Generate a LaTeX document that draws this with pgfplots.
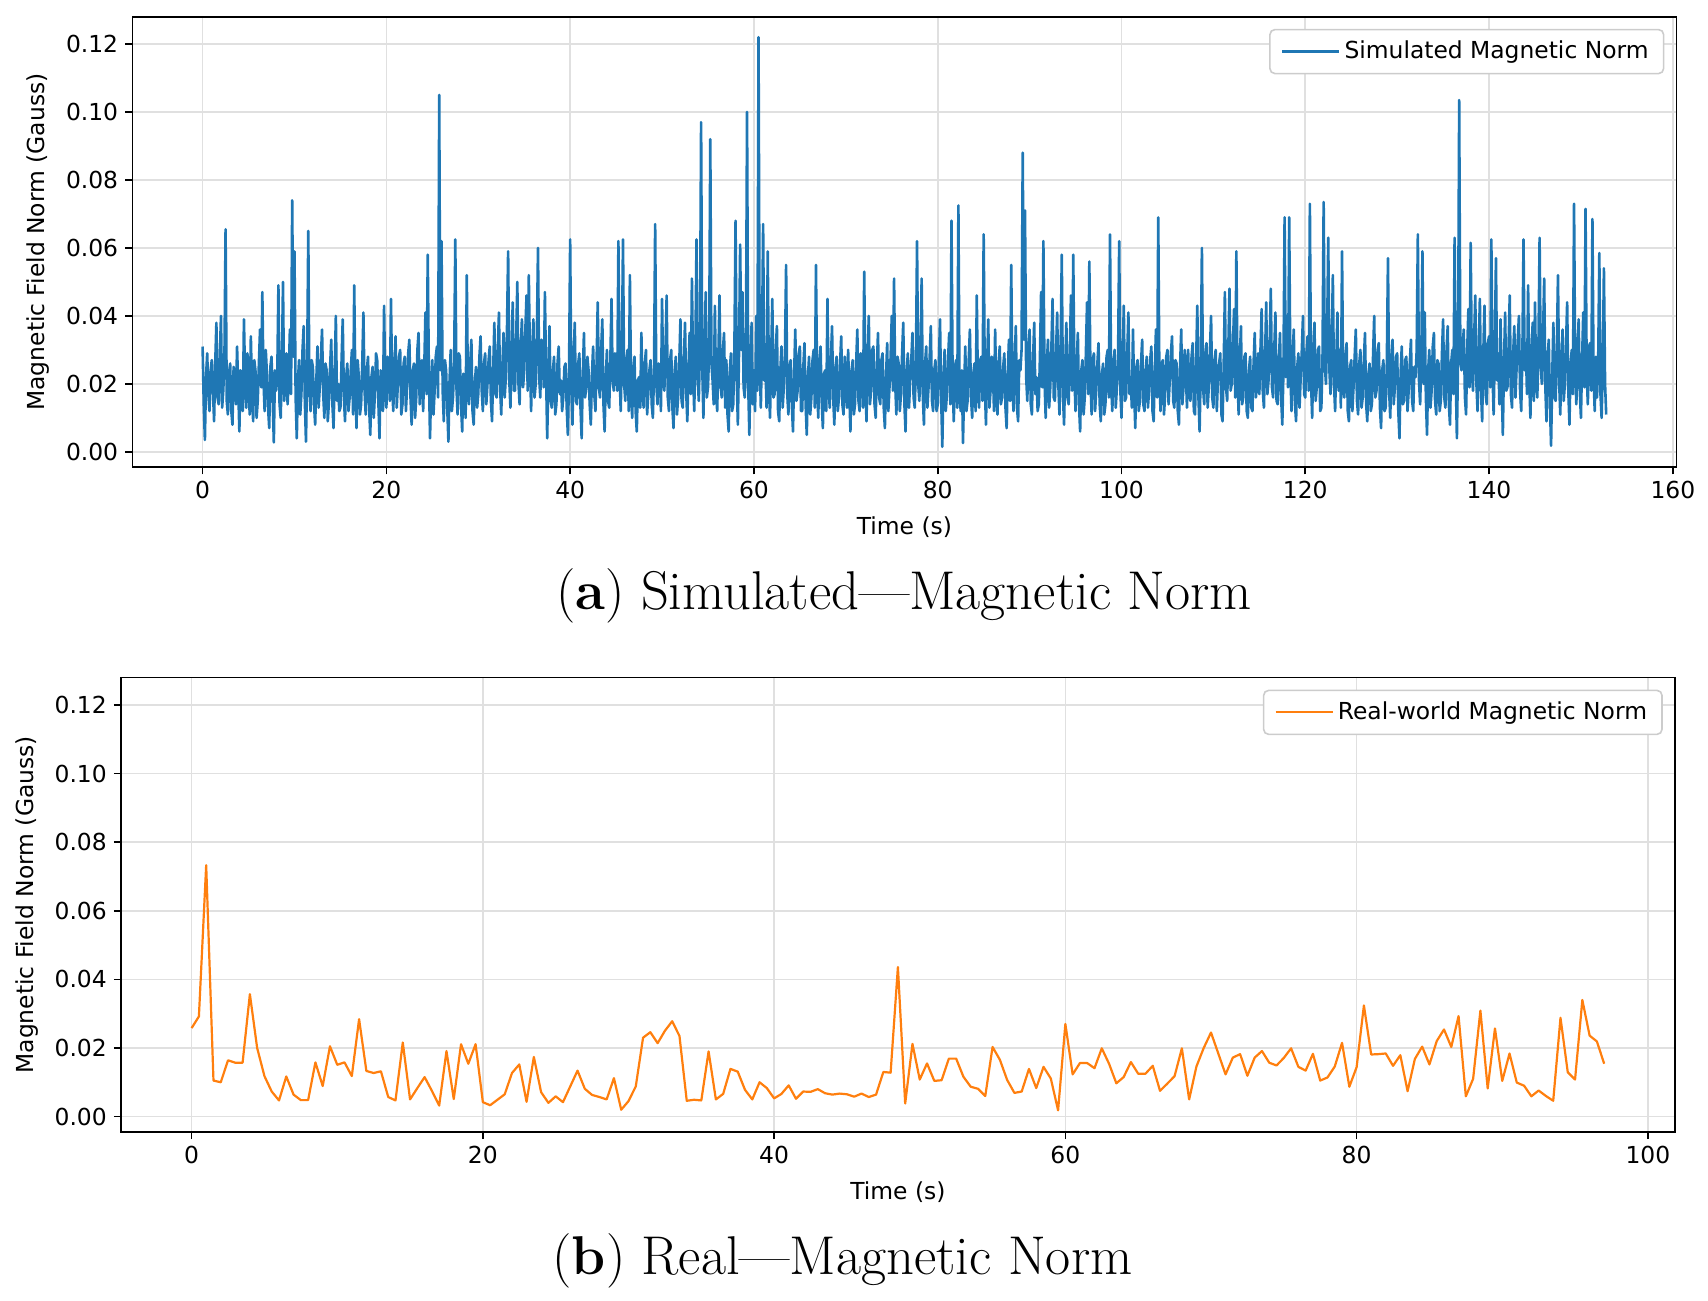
\documentclass[border=0pt]{standalone}
\usepackage{fontspec}
\newfontfamily\dv{DejaVu Sans}
\usepackage{pgfplots}
\pgfplotsset{compat=1.18}
\definecolor{tabblue}{HTML}{1F77B4}
\definecolor{taborange}{HTML}{FF7F0E}
\pgfplotsset{
 mpl/.style={
  scale only axis,
  axis line style={line width=0.8pt},
  tick style={black,line width=0.8pt},
  major tick length=3.6pt,
  tick align=outside,
  tick pos=left,
  grid=major,
  major grid style={line width=0.8pt, black!12},
  tick label style={font=\dv\fontsize{11.7}{14}\selectfont},
  /pgf/number format/assume math mode=true,
  yticklabel style={/pgf/number format/.cd,fixed,fixed zerofill,precision=2},
  ytick={0,0.02,0.04,0.06,0.08,0.1,0.12},
  ymin=-0.0045, ymax=0.128,
  scaled y ticks=false,
  xlabel={Time (s)},
  ylabel={Magnetic Field Norm (Gauss)},
  every axis x label/.style={at={([yshift=-30pt]axis description cs:0.5,0)},anchor=center,font=\dv\fontsize{11.7}{14}\selectfont},
  every axis y label/.style={at={([xshift=-47pt]axis description cs:0,0.5)},rotate=90,anchor=center,font=\dv\fontsize{11.7}{14}\selectfont},
  legend style={at={(1,1)},anchor=north east,xshift=-6pt,yshift=-6pt,draw=black!20,rounded corners=2.5pt,fill=white,font=\dv\fontsize{11.7}{14}\selectfont,inner xsep=5.5pt,inner ysep=3.8pt,line width=0.8pt},
  legend cell align=left,
  legend image code/.code={\draw[#1] (0pt,0pt) -- (20pt,0pt); \path (20pt,0pt) -- (28.5pt,0pt);},
 }
}
\begin{document}
\begin{tikzpicture}
\path[use as bounding box] (0,0) rectangle (854pt,650.5pt);
\begin{axis}[mpl, at={(66.2pt,416.9pt)}, anchor=south west, width=772pt, height=225.2pt,
  xmin=-7.64, xmax=160.39, xtick={0,20,40,60,80,100,120,140,160}]
\addplot[tabblue, line width=1.3pt, line join=round] coordinates {
(0,0.031)(0.125,0.014)(0.25,0.0035)(0.375,0.022)(0.5,0.029)(0.625,0.017)(0.75,0.012)(0.875,0.024)
(1,0.027)(1.125,0.018)(1.25,0.009)(1.375,0.026)(1.5,0.038)(1.625,0.016)(1.75,0.014)(1.875,0.028)
(2,0.040)(2.125,0.013)(2.25,0.018)(2.375,0.027)(2.5,0.0655)(2.625,0.015)(2.75,0.011)(2.875,0.023)
(3,0.026)(3.125,0.012)(3.25,0.008)(3.375,0.025)(3.5,0.022)(3.625,0.014)(3.75,0.031)(3.875,0.019)
(4,0.006)(4.125,0.024)(4.25,0.019)(4.375,0.012)(4.5,0.039)(4.625,0.021)(4.75,0.013)(4.875,0.029)
(5,0.021)(5.125,0.011)(5.25,0.034)(5.375,0.018)(5.5,0.009)(5.625,0.027)(5.75,0.024)(5.875,0.010)
(6,0.015)(6.125,0.026)(6.25,0.036)(6.375,0.019)(6.5,0.047)(6.625,0.021)(6.75,0.012)(6.875,0.030)
(7,0.023)(7.125,0.013)(7.25,0.007)(7.375,0.025)(7.5,0.028)(7.625,0.016)(7.75,0.0028)(7.875,0.024)
(8,0.018)(8.125,0.022)(8.25,0.049)(8.375,0.014)(8.5,0.010)(8.625,0.026)(8.75,0.050)(8.875,0.015)
(9,0.020)(9.125,0.029)(9.25,0.014)(9.375,0.022)(9.5,0.036)(9.625,0.017)(9.75,0.074)(9.875,0.028)
(10,0.059)(10.125,0.016)(10.25,0.004)(10.375,0.021)(10.5,0.027)(10.625,0.011)(10.75,0.017)(10.875,0.030)
(11,0.037)(11.125,0.015)(11.25,0.003)(11.375,0.024)(11.5,0.065)(11.625,0.018)(11.75,0.012)(11.875,0.027)
(12,0.025)(12.125,0.014)(12.25,0.008)(12.375,0.021)(12.5,0.031)(12.625,0.013)(12.75,0.019)(12.875,0.028)
(13,0.036)(13.125,0.017)(13.25,0.010)(13.375,0.026)(13.5,0.024)(13.625,0.009)(13.75,0.015)(13.875,0.025)
(14,0.033)(14.125,0.014)(14.25,0.007)(14.375,0.023)(14.5,0.040)(14.625,0.015)(14.75,0.020)(14.875,0.012)
(15,0.013)(15.125,0.027)(15.25,0.039)(15.375,0.016)(15.5,0.009)(15.625,0.022)(15.75,0.026)(15.875,0.012)
(16,0.016)(16.125,0.024)(16.25,0.030)(16.375,0.011)(16.5,0.049)(16.625,0.019)(16.75,0.007)(16.875,0.027)
(17,0.022)(17.125,0.011)(17.25,0.014)(17.375,0.026)(17.5,0.041)(17.625,0.018)(17.75,0.011)(17.875,0.024)
(18,0.028)(18.125,0.013)(18.25,0.005)(18.375,0.022)(18.5,0.025)(18.625,0.010)(18.75,0.017)(18.875,0.029)
(19,0.027)(19.125,0.015)(19.25,0.004)(19.375,0.024)(19.5,0.021)(19.625,0.012)(19.75,0.043)(19.875,0.019)
(20,0.013)(20.125,0.028)(20.25,0.026)(20.375,0.015)(20.5,0.045)(20.625,0.020)(20.75,0.012)(20.875,0.025)
(21,0.034)(21.125,0.013)(21.25,0.020)(21.375,0.028)(21.5,0.030)(21.625,0.011)(21.75,0.014)(21.875,0.026)
(22,0.028)(22.125,0.012)(22.25,0.019)(22.375,0.029)(22.5,0.033)(22.625,0.016)(22.75,0.008)(22.875,0.024)
(23,0.026)(23.125,0.010)(23.25,0.016)(23.375,0.030)(23.5,0.035)(23.625,0.014)(23.75,0.021)(23.875,0.027)
(24,0.012)(24.125,0.025)(24.25,0.041)(24.375,0.017)(24.5,0.058)(24.625,0.023)(24.75,0.004)(24.875,0.020)
(25,0.027)(25.125,0.011)(25.25,0.018)(25.375,0.028)(25.5,0.031)(25.625,0.016)(25.75,0.105)(25.875,0.024)
(26,0.062)(26.125,0.018)(26.25,0.009)(26.375,0.027)(26.5,0.024)(26.625,0.013)(26.75,0.003)(26.875,0.021)
(27,0.030)(27.125,0.012)(27.25,0.016)(27.375,0.026)(27.5,0.0625)(27.625,0.019)(27.75,0.011)(27.875,0.029)
(28,0.028)(28.125,0.014)(28.25,0.006)(28.375,0.023)(28.5,0.021)(28.625,0.010)(28.75,0.052)(28.875,0.017)
(29,0.014)(29.125,0.026)(29.25,0.033)(29.375,0.012)(29.5,0.008)(29.625,0.020)(29.75,0.025)(29.875,0.013)
(30,0.017)(30.125,0.028)(30.25,0.034)(30.375,0.018)(30.5,0.012)(30.625,0.026)(30.75,0.029)(30.875,0.014)
(31,0.020)(31.125,0.027)(31.25,0.031)(31.375,0.015)(31.5,0.009)(31.625,0.024)(31.75,0.038)(31.875,0.017)
(32,0.016)(32.125,0.030)(32.25,0.041)(32.375,0.019)(32.5,0.011)(32.625,0.025)(32.75,0.035)(32.875,0.016)
(33,0.022)(33.125,0.036)(33.25,0.059)(33.375,0.021)(33.5,0.013)(33.625,0.030)(33.75,0.044)(33.875,0.018)
(34,0.018)(34.125,0.033)(34.25,0.050)(34.375,0.020)(34.5,0.014)(34.625,0.031)(34.75,0.039)(34.875,0.019)
(35,0.024)(35.125,0.036)(35.25,0.046)(35.375,0.018)(35.5,0.052)(35.625,0.027)(35.75,0.012)(35.875,0.030)
(36,0.039)(36.125,0.016)(36.25,0.020)(36.375,0.034)(36.5,0.060)(36.625,0.022)(36.75,0.016)(36.875,0.033)
(37,0.032)(37.125,0.019)(37.25,0.047)(37.375,0.024)(37.5,0.004)(37.625,0.021)(37.75,0.037)(37.875,0.015)
(38,0.013)(38.125,0.024)(38.25,0.028)(38.375,0.011)(38.5,0.014)(38.625,0.026)(38.75,0.031)(38.875,0.017)
(39,0.021)(39.125,0.012)(39.25,0.016)(39.375,0.025)(39.5,0.026)(39.625,0.013)(39.75,0.005)(39.875,0.022)
(40,0.0625)(40.125,0.019)(40.25,0.008)(40.375,0.027)(40.5,0.038)(40.625,0.015)(40.75,0.014)(40.875,0.026)
(41,0.029)(41.125,0.013)(41.25,0.004)(41.375,0.022)(41.5,0.035)(41.625,0.016)(41.75,0.019)(41.875,0.028)
(42,0.024)(42.125,0.014)(42.25,0.008)(42.375,0.023)(42.5,0.031)(42.625,0.017)(42.75,0.012)(42.875,0.026)
(43,0.044)(43.125,0.019)(43.25,0.016)(43.375,0.030)(43.5,0.039)(43.625,0.014)(43.75,0.006)(43.875,0.021)
(44,0.030)(44.125,0.015)(44.25,0.013)(44.375,0.027)(44.5,0.045)(44.625,0.021)(44.75,0.018)(44.875,0.029)
(45,0.026)(45.125,0.018)(45.25,0.062)(45.375,0.024)(45.5,0.012)(45.625,0.028)(45.75,0.0625)(45.875,0.020)
(46,0.015)(46.125,0.027)(46.25,0.030)(46.375,0.012)(46.5,0.052)(46.625,0.019)(46.75,0.010)(46.875,0.024)
(47,0.028)(47.125,0.012)(47.25,0.006)(47.375,0.021)(47.5,0.022)(47.625,0.013)(47.75,0.035)(47.875,0.018)
(48,0.013)(48.125,0.026)(48.25,0.030)(48.375,0.011)(48.5,0.017)(48.625,0.024)(48.75,0.027)(48.875,0.014)
(49,0.010)(49.125,0.023)(49.25,0.067)(49.375,0.020)(49.5,0.014)(49.625,0.026)(49.75,0.025)(49.875,0.012)
(50,0.045)(50.125,0.021)(50.25,0.018)(50.375,0.030)(50.5,0.046)(50.625,0.016)(50.75,0.012)(50.875,0.027)
(51,0.030)(51.125,0.013)(51.25,0.007)(51.375,0.024)(51.5,0.028)(51.625,0.011)(51.75,0.016)(51.875,0.026)
(52,0.039)(52.125,0.015)(52.25,0.013)(52.375,0.027)(52.5,0.038)(52.625,0.018)(52.75,0.009)(52.875,0.024)
(53,0.035)(53.125,0.017)(53.25,0.051)(53.375,0.024)(53.5,0.012)(53.625,0.029)(53.75,0.0625)(53.875,0.022)
(54,0.015)(54.125,0.031)(54.25,0.097)(54.375,0.025)(54.5,0.010)(54.625,0.028)(54.75,0.047)(54.875,0.016)
(55,0.019)(55.125,0.030)(55.25,0.092)(55.375,0.026)(55.5,0.021)(55.625,0.014)(55.75,0.043)(55.875,0.018)
(56,0.012)(56.125,0.027)(56.25,0.046)(56.375,0.019)(56.5,0.016)(56.625,0.030)(56.75,0.035)(56.875,0.013)
(57,0.027)(57.125,0.011)(57.25,0.006)(57.375,0.024)(57.5,0.029)(57.625,0.012)(57.75,0.014)(57.875,0.031)
(58,0.068)(58.125,0.022)(58.25,0.008)(58.375,0.029)(58.5,0.061)(58.625,0.030)(58.75,0.047)(58.875,0.019)
(59,0.016)(59.125,0.027)(59.25,0.100)(59.375,0.020)(59.5,0.005)(59.625,0.026)(59.75,0.038)(59.875,0.014)
(60,0.024)(60.125,0.012)(60.25,0.040)(60.375,0.018)(60.5,0.122)(60.625,0.027)(60.75,0.013)(60.875,0.031)
(61,0.067)(61.125,0.021)(61.25,0.025)(61.375,0.013)(61.5,0.059)(61.625,0.020)(61.75,0.010)(61.875,0.028)
(62,0.045)(62.125,0.016)(62.25,0.017)(62.375,0.030)(62.5,0.037)(62.625,0.012)(62.75,0.009)(62.875,0.024)
(63,0.031)(63.125,0.013)(63.25,0.019)(63.375,0.028)(63.5,0.055)(63.625,0.017)(63.75,0.011)(63.875,0.025)
(64,0.027)(64.125,0.014)(64.25,0.006)(64.375,0.023)(64.5,0.036)(64.625,0.015)(64.75,0.018)(64.875,0.029)
(65,0.031)(65.125,0.012)(65.25,0.012)(65.375,0.025)(65.5,0.032)(65.625,0.014)(65.75,0.005)(65.875,0.022)
(66,0.028)(66.125,0.011)(66.25,0.016)(66.375,0.027)(66.5,0.030)(66.625,0.013)(66.75,0.055)(66.875,0.020)
(67,0.010)(67.125,0.026)(67.25,0.031)(67.375,0.015)(67.5,0.007)(67.625,0.023)(67.75,0.024)(67.875,0.012)
(68,0.045)(68.125,0.019)(68.25,0.013)(68.375,0.027)(68.5,0.037)(68.625,0.016)(68.75,0.008)(68.875,0.025)
(69,0.028)(69.125,0.012)(69.25,0.016)(69.375,0.026)(69.5,0.034)(69.625,0.014)(69.75,0.011)(69.875,0.028)
(70,0.022)(70.125,0.013)(70.25,0.030)(70.375,0.018)(70.5,0.006)(70.625,0.024)(70.75,0.027)(70.875,0.011)
(71,0.014)(71.125,0.026)(71.25,0.036)(71.375,0.015)(71.5,0.012)(71.625,0.029)(71.75,0.025)(71.875,0.013)
(72,0.053)(72.125,0.020)(72.25,0.009)(72.375,0.028)(72.5,0.040)(72.625,0.014)(72.75,0.018)(72.875,0.030)
(73,0.031)(73.125,0.014)(73.25,0.010)(73.375,0.025)(73.5,0.035)(73.625,0.016)(73.75,0.014)(73.875,0.027)
(74,0.029)(74.125,0.013)(74.25,0.007)(74.375,0.022)(74.5,0.032)(74.625,0.012)(74.75,0.019)(74.875,0.028)
(75,0.040)(75.125,0.018)(75.25,0.051)(75.375,0.020)(75.5,0.011)(75.625,0.028)(75.75,0.026)(75.875,0.012)
(76,0.017)(76.125,0.029)(76.25,0.038)(76.375,0.014)(76.5,0.006)(76.625,0.024)(76.75,0.029)(76.875,0.013)
(77,0.021)(77.125,0.027)(77.25,0.035)(77.375,0.016)(77.5,0.013)(77.625,0.025)(77.75,0.062)(77.875,0.020)
(78,0.015)(78.125,0.028)(78.25,0.051)(78.375,0.017)(78.5,0.008)(78.625,0.026)(78.75,0.031)(78.875,0.013)
(79,0.019)(79.125,0.028)(79.25,0.037)(79.375,0.015)(79.5,0.012)(79.625,0.024)(79.75,0.027)(79.875,0.012)
(80,0.014)(80.125,0.026)(80.25,0.039)(80.375,0.016)(80.5,0.0015)(80.625,0.021)(80.75,0.030)(80.875,0.012)
(81,0.017)(81.125,0.027)(81.25,0.035)(81.375,0.014)(81.5,0.068)(81.625,0.020)(81.75,0.009)(81.875,0.025)
(82,0.027)(82.125,0.013)(82.25,0.0725)(82.375,0.018)(82.5,0.012)(82.625,0.024)(82.75,0.0026)(82.875,0.019)
(83,0.031)(83.125,0.012)(83.25,0.015)(83.375,0.027)(83.5,0.036)(83.625,0.016)(83.75,0.010)(83.875,0.023)
(84,0.026)(84.125,0.012)(84.25,0.046)(84.375,0.019)(84.5,0.013)(84.625,0.027)(84.75,0.028)(84.875,0.015)
(85,0.064)(85.125,0.020)(85.25,0.008)(85.375,0.025)(85.5,0.039)(85.625,0.013)(85.75,0.018)(85.875,0.028)
(86,0.025)(86.125,0.012)(86.25,0.036)(86.375,0.017)(86.5,0.011)(86.625,0.026)(86.75,0.031)(86.875,0.014)
(87,0.016)(87.125,0.025)(87.25,0.029)(87.375,0.013)(87.5,0.007)(87.625,0.023)(87.75,0.033)(87.875,0.015)
(88,0.055)(88.125,0.019)(88.25,0.012)(88.375,0.026)(88.5,0.037)(88.625,0.013)(88.75,0.009)(88.875,0.027)
(89,0.024)(89.125,0.030)(89.25,0.088)(89.375,0.033)(89.5,0.071)(89.625,0.022)(89.75,0.015)(89.875,0.031)
(90,0.036)(90.125,0.014)(90.25,0.011)(90.375,0.027)(90.5,0.038)(90.625,0.017)(90.75,0.022)(90.875,0.012)
(91,0.014)(91.125,0.028)(91.25,0.047)(91.375,0.019)(91.5,0.062)(91.625,0.021)(91.75,0.010)(91.875,0.026)
(92,0.033)(92.125,0.013)(92.25,0.019)(92.375,0.031)(92.5,0.045)(92.625,0.016)(92.75,0.015)(92.875,0.029)
(93,0.041)(93.125,0.020)(93.25,0.011)(93.375,0.030)(93.5,0.058)(93.625,0.017)(93.75,0.008)(93.875,0.025)
(94,0.038)(94.125,0.016)(94.25,0.014)(94.375,0.029)(94.5,0.046)(94.625,0.018)(94.75,0.058)(94.875,0.022)
(95,0.012)(95.125,0.026)(95.25,0.035)(95.375,0.014)(95.5,0.006)(95.625,0.024)(95.75,0.027)(95.875,0.011)
(96,0.016)(96.125,0.029)(96.25,0.044)(96.375,0.017)(96.5,0.056)(96.625,0.021)(96.75,0.011)(96.875,0.027)
(97,0.029)(97.125,0.012)(97.25,0.018)(97.375,0.026)(97.5,0.032)(97.625,0.014)(97.75,0.009)(97.875,0.023)
(98,0.026)(98.125,0.011)(98.25,0.014)(98.375,0.028)(98.5,0.030)(98.625,0.016)(98.75,0.064)(98.875,0.020)
(99,0.012)(99.125,0.025)(99.25,0.030)(99.375,0.013)(99.5,0.019)(99.625,0.027)(99.75,0.062)(99.875,0.018)
(100,0.010)(100.125,0.027)(100.25,0.043)(100.375,0.015)(100.5,0.016)(100.625,0.029)(100.75,0.041)(100.875,0.017)
(101,0.022)(101.125,0.013)(101.25,0.036)(101.375,0.018)(101.5,0.007)(101.625,0.025)(101.75,0.027)(101.875,0.012)
(102,0.015)(102.125,0.026)(102.25,0.033)(102.375,0.014)(102.5,0.012)(102.625,0.024)(102.75,0.028)(102.875,0.013)
(103,0.018)(103.125,0.027)(103.25,0.031)(103.375,0.012)(103.5,0.009)(103.625,0.024)(103.75,0.036)(103.875,0.016)
(104,0.069)(104.125,0.021)(104.25,0.012)(104.375,0.026)(104.5,0.027)(104.625,0.011)(104.75,0.017)(104.875,0.028)
(105,0.030)(105.125,0.014)(105.25,0.021)(105.375,0.029)(105.5,0.034)(105.625,0.015)(105.75,0.013)(105.875,0.027)
(106,0.026)(106.125,0.012)(106.25,0.008)(106.375,0.025)(106.5,0.036)(106.625,0.014)(106.75,0.019)(106.875,0.030)
(107,0.024)(107.125,0.013)(107.25,0.030)(107.375,0.017)(107.5,0.015)(107.625,0.028)(107.75,0.032)(107.875,0.012)
(108,0.011)(108.125,0.027)(108.25,0.043)(108.375,0.016)(108.5,0.006)(108.625,0.025)(108.75,0.060)(108.875,0.019)
(109,0.014)(109.125,0.028)(109.25,0.032)(109.375,0.013)(109.5,0.019)(109.625,0.030)(109.75,0.040)(109.875,0.016)
(110,0.013)(110.125,0.027)(110.25,0.030)(110.375,0.012)(110.5,0.022)(110.625,0.026)(110.75,0.029)(110.875,0.011)
(111,0.009)(111.125,0.026)(111.25,0.047)(111.375,0.019)(111.5,0.015)(111.625,0.030)(111.75,0.048)(111.875,0.018)
(112,0.020)(112.125,0.031)(112.25,0.042)(112.375,0.016)(112.5,0.059)(112.625,0.022)(112.75,0.011)(112.875,0.027)
(113,0.037)(113.125,0.014)(113.25,0.016)(113.375,0.028)(113.5,0.029)(113.625,0.012)(113.75,0.010)(113.875,0.024)
(114,0.028)(114.125,0.013)(114.25,0.012)(114.375,0.026)(114.5,0.035)(114.625,0.016)(114.75,0.020)(114.875,0.029)
(115,0.017)(115.125,0.030)(115.25,0.042)(115.375,0.018)(115.5,0.013)(115.625,0.028)(115.75,0.044)(115.875,0.017)
(116,0.021)(116.125,0.032)(116.25,0.048)(116.375,0.019)(116.5,0.016)(116.625,0.030)(116.75,0.041)(116.875,0.015)
(117,0.014)(117.125,0.027)(117.25,0.035)(117.375,0.016)(117.5,0.008)(117.625,0.024)(117.75,0.069)(117.875,0.022)
(118,0.040)(118.125,0.019)(118.25,0.069)(118.375,0.024)(118.5,0.012)(118.625,0.029)(118.75,0.036)(118.875,0.014)
(119,0.009)(119.125,0.025)(119.25,0.029)(119.375,0.013)(119.5,0.022)(119.625,0.030)(119.75,0.040)(119.875,0.017)
(120,0.016)(120.125,0.029)(120.25,0.034)(120.375,0.018)(120.5,0.073)(120.625,0.021)(120.75,0.010)(120.875,0.028)
(121,0.038)(121.125,0.015)(121.25,0.019)(121.375,0.030)(121.5,0.031)(121.625,0.012)(121.75,0.013)(121.875,0.027)
(122,0.0735)(122.125,0.026)(122.25,0.020)(122.375,0.034)(122.5,0.063)(122.625,0.024)(122.75,0.017)(122.875,0.031)
(123,0.052)(123.125,0.020)(123.25,0.012)(123.375,0.027)(123.5,0.041)(123.625,0.018)(123.75,0.030)(123.875,0.013)
(124,0.059)(124.125,0.019)(124.25,0.016)(124.375,0.028)(124.5,0.032)(124.625,0.012)(124.75,0.009)(124.875,0.025)
(125,0.027)(125.125,0.012)(125.25,0.019)(125.375,0.028)(125.5,0.036)(125.625,0.015)(125.75,0.011)(125.875,0.026)
(126,0.030)(126.125,0.013)(126.25,0.016)(126.375,0.027)(126.5,0.035)(126.625,0.014)(126.75,0.009)(126.875,0.023)
(127,0.026)(127.125,0.012)(127.25,0.014)(127.375,0.028)(127.5,0.040)(127.625,0.016)(127.75,0.018)(127.875,0.030)
(128,0.032)(128.125,0.013)(128.25,0.007)(128.375,0.024)(128.5,0.027)(128.625,0.012)(128.75,0.013)(128.875,0.026)
(129,0.057)(129.125,0.018)(129.25,0.010)(129.375,0.027)(129.5,0.033)(129.625,0.014)(129.75,0.019)(129.875,0.028)
(130,0.029)(130.125,0.012)(130.25,0.004)(130.375,0.023)(130.5,0.031)(130.625,0.014)(130.75,0.015)(130.875,0.027)
(131,0.028)(131.125,0.012)(131.25,0.018)(131.375,0.026)(131.5,0.033)(131.625,0.015)(131.75,0.012)(131.875,0.025)
(132,0.022)(132.125,0.030)(132.25,0.064)(132.375,0.021)(132.5,0.014)(132.625,0.027)(132.75,0.059)(132.875,0.020)
(133,0.041)(133.125,0.016)(133.25,0.005)(133.375,0.024)(133.5,0.030)(133.625,0.013)(133.75,0.018)(133.875,0.031)
(134,0.035)(134.125,0.015)(134.25,0.011)(134.375,0.027)(134.5,0.026)(134.625,0.012)(134.75,0.015)(134.875,0.029)
(135,0.039)(135.125,0.016)(135.25,0.013)(135.375,0.030)(135.5,0.037)(135.625,0.014)(135.75,0.008)(135.875,0.026)
(136,0.030)(136.125,0.017)(136.25,0.063)(136.375,0.022)(136.5,0.004)(136.625,0.027)(136.75,0.1035)(136.875,0.028)
(137,0.024)(137.125,0.031)(137.25,0.036)(137.375,0.016)(137.5,0.011)(137.625,0.030)(137.75,0.042)(137.875,0.019)
(138,0.0615)(138.125,0.024)(138.25,0.018)(138.375,0.033)(138.5,0.046)(138.625,0.020)(138.75,0.012)(138.875,0.030)
(139,0.045)(139.125,0.018)(139.25,0.009)(139.375,0.029)(139.5,0.043)(139.625,0.017)(139.75,0.014)(139.875,0.032)
(140,0.034)(140.125,0.019)(140.25,0.0625)(140.375,0.023)(140.5,0.011)(140.625,0.030)(140.75,0.057)(140.875,0.021)
(141,0.029)(141.125,0.014)(141.25,0.039)(141.375,0.020)(141.5,0.005)(141.625,0.026)(141.75,0.041)(141.875,0.018)
(142,0.019)(142.125,0.031)(142.25,0.046)(142.375,0.017)(142.5,0.013)(142.625,0.029)(142.75,0.037)(142.875,0.016)
(143,0.025)(143.125,0.033)(143.25,0.040)(143.375,0.018)(143.5,0.012)(143.625,0.028)(143.75,0.0625)(143.875,0.024)
(144,0.032)(144.125,0.017)(144.25,0.049)(144.375,0.021)(144.5,0.010)(144.625,0.030)(144.75,0.038)(144.875,0.015)
(145,0.044)(145.125,0.020)(145.25,0.016)(145.375,0.031)(145.5,0.063)(145.625,0.025)(145.75,0.020)(145.875,0.034)
(146,0.051)(146.125,0.019)(146.25,0.009)(146.375,0.028)(146.5,0.033)(146.625,0.014)(146.75,0.0018)(146.875,0.022)
(147,0.038)(147.125,0.016)(147.25,0.015)(147.375,0.030)(147.5,0.052)(147.625,0.021)(147.75,0.011)(147.875,0.027)
(148,0.036)(148.125,0.015)(148.25,0.020)(148.375,0.031)(148.5,0.044)(148.625,0.018)(148.75,0.008)(148.875,0.026)
(149,0.030)(149.125,0.017)(149.25,0.073)(149.375,0.024)(149.5,0.014)(149.625,0.029)(149.75,0.039)(149.875,0.018)
(150,0.010)(150.125,0.027)(150.25,0.041)(150.375,0.019)(150.5,0.0715)(150.625,0.023)(150.75,0.014)(150.875,0.031)
(151,0.032)(151.125,0.018)(151.25,0.0685)(151.375,0.022)(151.5,0.012)(151.625,0.028)(151.75,0.016)(151.875,0.026)
(152,0.0585)(152.125,0.017)(152.25,0.010)(152.375,0.025)(152.5,0.054)(152.625,0.020)(152.75,0.011)
};
\addlegendentry{Simulated Magnetic Norm}
\end{axis}
\begin{axis}[mpl, at={(60.5pt,84.5pt)}, anchor=south west, width=776.9pt, height=227.2pt,
  xmin=-4.85, xmax=101.85, xtick={0,20,40,60,80,100}]
\addplot[taborange, line width=1.1pt, line join=round] coordinates {
(0,0.0258)(0.5,0.0292)(1,0.0733)(1.5,0.0105)(2,0.0100)(2.5,0.0164)(3,0.0157)(3.5,0.0157)
(4,0.0357)(4.5,0.0200)(5,0.0118)(5.5,0.0073)(6,0.0047)(6.5,0.0117)(7,0.0064)(7.5,0.0048)
(8,0.0048)(8.5,0.0158)(9,0.0089)(9.5,0.0205)(10,0.0151)(10.5,0.0158)(11,0.0118)(11.5,0.0284)
(12,0.0133)(12.5,0.0127)(13,0.0132)(13.5,0.0057)(14,0.0047)(14.5,0.0216)(15,0.0050)(15.5,0.0083)
(16,0.0115)(16.5,0.0075)(17,0.0032)(17.5,0.0191)(18,0.0051)(18.5,0.0211)(19,0.0154)(19.5,0.0211)
(20,0.0042)(20.5,0.0033)(21,0.0049)(21.5,0.0065)(22,0.0127)(22.5,0.0152)(23,0.0043)(23.5,0.0174)
(24,0.0071)(24.5,0.0040)(25,0.0059)(25.5,0.0042)(26,0.0088)(26.5,0.0134)(27,0.0081)(27.5,0.0063)
(28,0.0057)(28.5,0.0050)(29,0.0112)(29.5,0.0020)(30,0.0045)(30.5,0.0088)(31,0.0230)(31.5,0.0246)
(32,0.0214)(32.5,0.0250)(33,0.0278)(33.5,0.0235)(34,0.0046)(34.5,0.0049)(35,0.0047)(35.5,0.0190)
(36,0.0050)(36.5,0.0066)(37,0.0139)(37.5,0.0131)(38,0.0078)(38.5,0.0050)(39,0.0100)(39.5,0.0083)
(40,0.0053)(40.5,0.0066)(41,0.0091)(41.5,0.0052)(42,0.0073)(42.5,0.0072)(43,0.0080)(43.5,0.0068)
(44,0.0064)(44.5,0.0067)(45,0.0065)(45.5,0.0058)(46,0.0067)(46.5,0.0057)(47,0.0064)(47.5,0.0130)
(48,0.0128)(48.5,0.0436)(49,0.0038)(49.5,0.0212)(50,0.0108)(50.5,0.0155)(51,0.0104)(51.5,0.0106)
(52,0.0169)(52.5,0.0169)(53,0.0116)(53.5,0.0087)(54,0.0081)(54.5,0.0060)(55,0.0203)(55.5,0.0166)
(56,0.0107)(56.5,0.0069)(57,0.0073)(57.5,0.0139)(58,0.0083)(58.5,0.0145)(59,0.0111)(59.5,0.0018)
(60,0.0270)(60.5,0.0123)(61,0.0156)(61.5,0.0156)(62,0.0141)(62.5,0.0199)(63,0.0154)(63.5,0.0097)
(64,0.0115)(64.5,0.0159)(65,0.0125)(65.5,0.0125)(66,0.0148)(66.5,0.0075)(67,0.0096)(67.5,0.0118)
(68,0.0199)(68.5,0.0050)(69,0.0146)(69.5,0.0200)(70,0.0245)(70.5,0.0184)(71,0.0123)(71.5,0.0172)
(72,0.0182)(72.5,0.0119)(73,0.0172)(73.5,0.0191)(74,0.0157)(74.5,0.0149)(75,0.0171)(75.5,0.0199)
(76,0.0145)(76.5,0.0134)(77,0.0183)(77.5,0.0105)(78,0.0114)(78.5,0.0146)(79,0.0215)(79.5,0.0087)
(80,0.0144)(80.5,0.0324)(81,0.0181)(81.5,0.0182)(82,0.0184)(82.5,0.0148)(83,0.0179)(83.5,0.0074)
(84,0.0168)(84.5,0.0204)(85,0.0152)(85.5,0.0220)(86,0.0254)(86.5,0.0203)(87,0.0293)(87.5,0.0059)
(88,0.0110)(88.5,0.0309)(89,0.0082)(89.5,0.0257)(90,0.0104)(90.5,0.0184)(91,0.0099)(91.5,0.0090)
(92,0.0059)(92.5,0.0076)(93,0.0060)(93.5,0.0046)(94,0.0288)(94.5,0.0129)(95,0.0108)(95.5,0.0340)
(96,0.0236)(96.5,0.0219)(97,0.0154)
};
\addlegendentry{Real-world Magnetic Norm}
\end{axis}
\node[anchor=base, font=\fontsize{27.3}{32}\selectfont] at (452pt,345.5pt) {(\textbf{a}) Simulated---Magnetic Norm};
\node[anchor=base, font=\fontsize{27.3}{32}\selectfont] at (421.3pt,13.3pt) {(\textbf{b}) Real---Magnetic Norm};
\end{tikzpicture}
\end{document}
